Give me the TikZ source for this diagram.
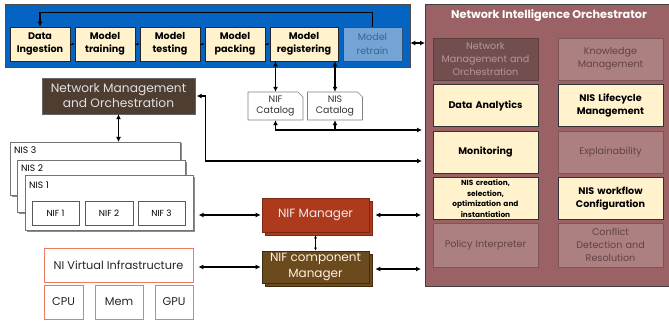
\documentclass[tikz,border=0pt]{standalone}
\usepackage{fontspec}
\setmainfont{Poppins}
\usetikzlibrary{arrows.meta,shadows}

\definecolor{pipeblue}{HTML}{0563C1}
\definecolor{beige}{HTML}{FFF2CC}
\definecolor{retrainfill}{HTML}{73A4D5}
\definecolor{retraintext}{HTML}{3A6594}
\definecolor{orchfill}{HTML}{9A6265}
\definecolor{nmoinner}{HTML}{734E4E}
\definecolor{nmoinnertext}{HTML}{B49898}
\definecolor{grayinner}{HTML}{AC8081}
\definecolor{grayinnertext}{HTML}{634245}
\definecolor{grayinnerline}{HTML}{7C5556}
\definecolor{nmoleft}{HTML}{4E3D31}
\definecolor{nifmfill}{HTML}{AE3A1D}
\definecolor{nifmline}{HTML}{7A2811}
\definecolor{nifcfill}{HTML}{6B4A1E}
\definecolor{nifcline}{HTML}{3F2B10}
\definecolor{salmon}{HTML}{EC7C5F}

\newcommand\fs[2]{\fontsize{#1}{#2}\selectfont}

\begin{document}
\begin{tikzpicture}[x=1pt,y=-1pt,
  >={Latex[length=5pt,width=5pt]},
  link/.style={line width=1.3pt},
  smalllink/.style={line width=0.7pt,-{Latex[length=2.5pt,width=2.5pt]}},
  stage/.style={draw=black!85,line width=0.7pt,fill=beige,minimum width=60pt,
    minimum height=34pt,inner sep=1pt,align=center,font=\bfseries\fs{9.6}{13.5}},
  orchbeige/.style={draw=black!80,line width=0.7pt,fill=beige,minimum width=105pt,
    minimum height=42pt,text width=102pt,inner sep=1pt,align=center,font=\bfseries\fs{9.6}{13}},
  orchgray/.style={draw=grayinnerline,line width=0.7pt,fill=grayinner,text=grayinnertext,
    minimum width=105pt,minimum height=42pt,text width=102pt,inner sep=1pt,align=center,
    font=\fs{9.6}{13.2}},
  nisbox/.style={draw=black!55,fill=white,line width=0.6pt,anchor=north west,
    drop shadow={shadow xshift=1.2pt,shadow yshift=-1.2pt,fill=black!45,opacity=1}},
  nifbox/.style={draw=black!65,line width=0.6pt,minimum height=24pt,inner sep=0pt,font=\fs{8.8}{10}},
  nislabel/.style={anchor=west,inner sep=0pt,font=\fs{9.2}{10}},
  mgr/.style={line width=0.7pt,minimum width=107pt,inner sep=1pt,align=center,
    font=\fs{12}{15.5},copy shadow={shadow xshift=3.5pt,shadow yshift=-3pt}},
  infra/.style={draw=salmon,line width=0.8pt,inner sep=0pt,minimum height=34pt,text=black!85,
    font=\fs{11.3}{12}},
  catalog/.style={minimum width=55pt,minimum height=28pt,inner sep=0pt,align=center,
    font=\fs{9.4}{11.2},text=black!80}
]
\useasboundingbox (0,0) rectangle (669,326);

% ---------- model pipeline ----------
\node[draw=black!70,line width=0.6pt,fill=pipeblue,minimum width=405pt,minimum height=63pt,
  inner sep=0pt] (pipe) at (207.5,35.5) {};
\node[stage] (di) at (40,44) {Data\\Ingestion};
\node[stage] (mtr) at (105,44) {Model\\training};
\node[stage] (mte) at (170,44) {Model\\testing};
\node[stage] (mpa) at (235,44) {Model\\packing};
\node[stage,minimum width=68pt] (mre) at (304,44) {Model\\registering};
\node[stage,minimum width=59pt,fill=retrainfill,draw=retraintext!80!black,text=retraintext,
  font=\fs{9.6}{13.5}] (mrt) at (372.5,44) {Model\\retrain};

\draw[smalllink] (di) -- (mtr);
\draw[smalllink] (mtr) -- (mte);
\draw[smalllink] (mte) -- (mpa);
\draw[smalllink] (mpa) -- (mre);
\draw[link,->] (mrt.north) -- ++(0,-14) -| (di.north);

% ---------- catalogs (sheets with a snipped corner) ----------
\coordinate (nifcat) at (275.5,106);
\coordinate (niscat) at (335,106);
\foreach \c in {nifcat,niscat}{
  \draw[black!50,fill=white,line width=0.6pt] ([shift={(-27.5,14)}]\c) -- ([shift={(-27.5,-14)}]\c)
    -- ([shift={(22.5,-14)}]\c) -- ([shift={(27.5,-9)}]\c)
    -- ([shift={(27.5,14)}]\c) -- cycle;
}
\node[catalog] (nifcatbox) at (nifcat) {NIF\\Catalog};
\node[catalog] (niscatbox) at (niscat) {NIS\\Catalog};

% ---------- orchestrator ----------
\node[draw=black!75,line width=0.8pt,fill=orchfill,anchor=north west,minimum width=255pt,
  minimum height=282pt,inner sep=0pt] (nio) at (425,4) {};
\node[text=white,font=\bfseries\fs{11.2}{12}] (niot) at (549,16) {Network Intelligence Orchestrator};

\node[orchgray,fill=nmoinner,draw=nmoinner!80!black,text=nmoinnertext] (onmo) at (485.5,59)
  {Network\\Management and\\Orchestration};
\node[orchgray] (okm) at (610.5,59) {Knowledge\\Management};
\node[orchbeige] (oda) at (485.5,105.5) {Data Analytics};
\node[orchbeige] (olc) at (610.5,105.5) {NIS Lifecycle\\Management};
\node[orchbeige] (omon) at (485.5,152) {Monitoring};
\node[orchgray] (oexp) at (610.5,152) {Explainability};
\node[orchbeige,font=\bfseries\fs{7.4}{10.8}] (ocre) at (485.5,198.5)
  {NIS creation,\\selection,\\optimization and\\instantiation};
\node[orchbeige] (owf) at (610.5,198.5) {NIS workflow\\Configuration};
\node[orchgray,minimum height=44pt] (opi) at (485.5,245) {Policy Interpreter};
\node[orchgray,minimum height=44pt] (ocd) at (610.5,245) {Conflict\\Detection and\\Resolution};

% ---------- network management side ----------
\node[draw=black!60,fill=nmoleft,text=white!88!black,minimum width=153pt,minimum height=36pt,
  inner sep=0pt,align=center,font=\fs{12.2}{15}] (nmo) at (118.5,96)
  {Network Management\\and Orchestration};

\node[nisbox,minimum width=170pt,minimum height=53pt] (nis3) at (10,142) {};
\node[nislabel] (nis3l) at (14,150.5) {NIS 3};
\node[nisbox,minimum width=168pt,minimum height=52pt] (nis2) at (17,160) {};
\node[nislabel] (nis2l) at (21,168.5) {NIS 2};
\node[nisbox,minimum width=168pt,minimum height=55pt] (nis1) at (25,175) {};
\node[nislabel] (nis1l) at (29,185) {NIS 1};
\node[nifbox,minimum width=47pt] (nif1) at (55.5,213) {NIF 1};
\node[nifbox,minimum width=48pt] (nif2) at (109,213) {NIF 2};
\node[nifbox,minimum width=47pt] (nif3) at (161.5,213) {NIF 3};

% ---------- managers ----------
\node[mgr,fill=nifmfill,draw=nifmline,text=white!92!black,minimum height=34pt] (nifm)
  at (315.5,215) {NIF Manager};
\node[mgr,fill=nifcfill,draw=nifcline,text=white!88!orange,minimum height=32pt] (nifc)
  at (315.5,267) {NIF component\\Manager};

% ---------- infrastructure ----------
\node[infra,minimum width=149pt] (nivi) at (118.5,265) {NI Virtual Infrastructure};
\node[infra,minimum width=39pt] (cpu) at (63.5,302) {CPU};
\node[infra,minimum width=48pt] (mem) at (119,302) {Mem};
\node[infra,minimum width=38pt] (gpu) at (174,302) {GPU};

% ---------- connectors ----------
\coordinate (rowpipe) at (0,43);
\coordinate (rowbus) at (0,130);
\coordinate (rownmo) at (0,161);
\coordinate (rownifc) at (0,269);

\draw[link,<->] (pipe.east |- rowpipe) -- (nio.west |- rowpipe);
\draw[link,<->] (nifcatbox.north) -- (nifcatbox.north |- mre.south);
\draw[link,<->] (niscatbox.north) -- (niscatbox.north |- mre.south);
\draw[link,<->,shorten >=3pt] (nifcatbox.south) |- (nio.west |- rowbus);
\draw[link,->] (niscatbox.south |- rowbus) -- (niscatbox.south);
\draw[link,<->,shorten <=1.5pt,shorten >=3pt] (nmo.east) -- ++(10,0) |- (nio.west |- rownmo);
\draw[link,<->] (nmo.south) -- (nmo.south |- nis3.north);
\draw[link,<->,shorten <=5pt,shorten >=1pt] (nis1.east |- nifm.west) -- (nifm.west);
\draw[link,<->,shorten <=6pt,shorten >=4pt] (nifm.east) -- (nio.west |- nifm.east);
\draw[line width=0.8pt,{Latex[length=3pt,width=3pt]}-{Latex[length=3pt,width=3pt]}]
  ([yshift=-3pt]nifm.south) -- (nifc.north);
\draw[link,<->,shorten <=5pt,shorten >=1pt] (nivi.east |- nifc.west) -- (nifc.west);
\draw[link,<->,shorten <=6pt,shorten >=4pt] (nifc.east |- rownifc) -- (nio.west |- rownifc);
\end{tikzpicture}
\end{document}
